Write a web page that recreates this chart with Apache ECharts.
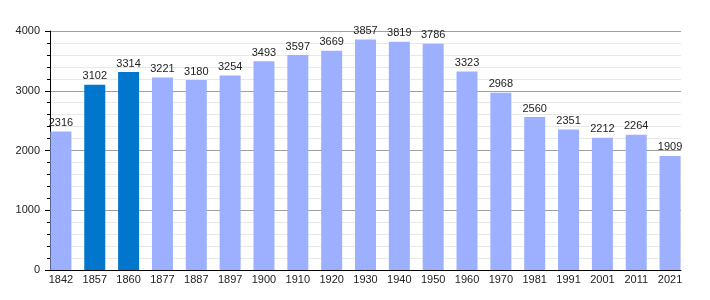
<!DOCTYPE html>
<html><head><meta charset="utf-8">
<script src="https://cdn.jsdelivr.net/npm/echarts@6/dist/echarts.min.js"></script>
<style>html,body{margin:0;padding:0;background:#fff}#c{width:710px;height:300px}</style>
</head><body><div id="c"></div>
<script>
var years = ['1842','1857','1860','1877','1887','1897','1900','1910','1920','1930','1940','1950','1960','1970','1981','1991','2001','2011','2021'];
var population = [2316,3102,3314,3221,3180,3254,3493,3597,3669,3857,3819,3786,3323,2968,2560,2351,2212,2264,1909];
var highlighted = ['1857','1860'];
var yTicks = [0,1000,2000,3000,4000];

var FONT = 'Liberation Sans';
var chart = echarts.init(document.getElementById('c'), null, {renderer:'canvas'});
chart.setOption({
  animation:false,
  grid:[
    {left:44, width:643, top:31, bottom:30},
    {left:50, right:29, top:31, bottom:30}
  ],
  xAxis:[
    {gridIndex:0, type:'category', data:years, boundaryGap:true,
     axisLine:{show:false}, axisTick:{show:false},
     axisLabel:{color:'#222', fontSize:11, fontFamily:FONT, margin:4}},
    {gridIndex:1, type:'category', data:[''], axisLine:{show:true, lineStyle:{color:'#000', width:1}},
     axisTick:{show:false}, axisLabel:{show:false}}
  ],
  yAxis:[
    {gridIndex:0, type:'value', min:0, max:4000, show:false, splitLine:{show:false}},
    {gridIndex:1, type:'value', min:0, max:4000, interval:1000,
     axisLine:{show:true, lineStyle:{color:'#000'}},
     axisTick:{show:true, length:5, lineStyle:{color:'#000'}},
     minorTick:{show:true, splitNumber:5, length:3, lineStyle:{color:'#000'}},
     splitLine:{show:true, lineStyle:{color:'#a0a0a0', width:1}},
     minorSplitLine:{show:true, lineStyle:{color:'#e8e8e8', width:1}},
     axisLabel:{color:'#222', fontSize:11, fontFamily:FONT, margin:10,
       formatter:function(v){return yTicks.indexOf(v)>=0?String(v):'';}}}
  ],
  series:[{
    type:'bar', xAxisIndex:0, yAxisIndex:0, barWidth:21, z:3,
    data:population.map(function(v,i){
      return {value:v, itemStyle:{color: highlighted.indexOf(years[i])>=0 ? '#0077cc' : '#9cb0ff'}};
    }),
    label:{show:true, position:'top', distance:3, color:'#222', fontSize:11, fontFamily:FONT}
  }]
});
</script></body></html>
